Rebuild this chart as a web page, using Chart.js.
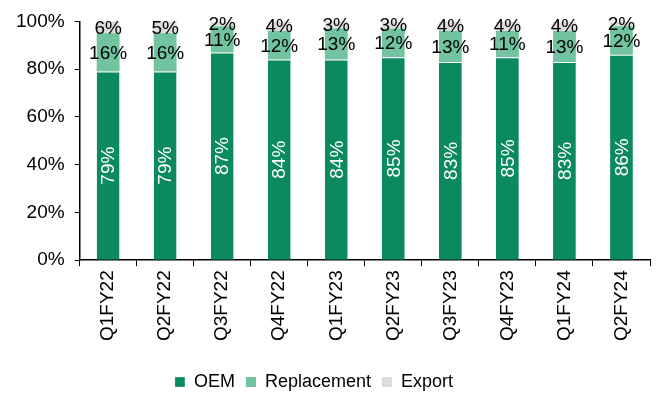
<!DOCTYPE html>
<html>
<head>
<meta charset="utf-8">
<script src="https://cdn.jsdelivr.net/npm/chart.js"></script>
<style>
  html, body { margin: 0; padding: 0; background: #fff; }
  #wrap { width: 657px; height: 396px; }
</style>
</head>
<body>
<div id="wrap"><canvas id="c" width="657" height="396"></canvas></div>
<script>
// dados
const trimestres = ['Q1FY22', 'Q2FY22', 'Q3FY22', 'Q4FY22', 'Q1FY23', 'Q2FY23', 'Q3FY23', 'Q4FY23', 'Q1FY24', 'Q2FY24'];
const oem = [79, 79, 87, 84, 84, 85, 83, 85, 83, 86];
const reposicao = [16, 16, 11, 12, 13, 12, 13, 11, 13, 12];
const exportacao = [6, 5, 2, 4, 3, 3, 4, 4, 4, 2];
const ticksY = [0, 20, 40, 60, 80, 100];

const fonte = '"Liberation Sans", Arial, sans-serif';

// rótulos dentro das barras
const rotulos = {
    id: 'rotulos',
    afterLayout(chart) {
        // legenda um pouco à esquerda, como no original
        chart.legend.left -= 14;
        chart.legend.right -= 14;
    },
    afterDatasetsDraw(chart) {
        const ctx = chart.ctx;
        const topo = chart.chartArea.top;
        ctx.save();
        ctx.font = '19px ' + fonte;
        ctx.textAlign = 'center';
        ctx.textBaseline = 'middle';
        chart.data.datasets.forEach((ds, i) => {
            const meta = chart.getDatasetMeta(i);
            meta.data.forEach((bar, j) => {
                const y1 = Math.max(bar.y, topo);
                const cy = (y1 + bar.base) / 2;
                const txt = ds.data[j] + '%';
                if (i === 0) {
                    ctx.save();
                    ctx.translate(bar.x, cy);
                    ctx.rotate(-Math.PI / 2);
                    ctx.fillStyle = '#ffffff';
                    ctx.fillText(txt, 0, 1);
                    ctx.restore();
                } else {
                    ctx.fillStyle = '#000000';
                    ctx.fillText(txt, bar.x, cy + 1);
                }
            });
        });
        ctx.restore();
    }
};

new Chart(document.getElementById('c'), {
    type: 'bar',
    data: {
        labels: trimestres,
        datasets: [
            { label: 'OEM', data: oem, backgroundColor: '#0b8a5f', borderColor: '#ffffff', borderWidth: { top: 1 }, borderSkipped: false },
            { label: 'Replacement', data: reposicao, backgroundColor: '#72c3a0', borderColor: '#ffffff', borderWidth: 0 },
            { label: 'Export', data: exportacao, backgroundColor: '#dcdcdc', borderWidth: 0 }
        ]
    },
    options: {
        responsive: false,
        animation: false,
        devicePixelRatio: 1,
        layout: { padding: { left: 6, right: 7, top: -5, bottom: -5 } },
        datasets: { bar: { barPercentage: 0.4, categoryPercentage: 1.0 } },
        plugins: {
            legend: {
                position: 'bottom',
                labels: {
                    font: { family: fonte, size: 18 },
                    color: '#000',
                    boxWidth: 10,
                    boxHeight: 10,
                    padding: 11
                }
            },
            tooltip: { enabled: false }
        },
        scales: {
            x: {
                stacked: true,
                afterFit(axis) { axis.height += 17; },
                grid: { offset: true, drawOnChartArea: false, drawTicks: true, tickLength: 6, color: '#000' },
                border: { color: '#000', width: 1.5 },
                ticks: {
                    font: { family: fonte, size: 19 },
                    color: '#000',
                    maxRotation: 90,
                    minRotation: 90,
                    padding: 4
                }
            },
            y: {
                stacked: true,
                min: 0,
                max: 100,
                afterBuildTicks(axis) { axis.ticks = ticksY.map(v => ({ value: v })); },
                grid: { drawOnChartArea: false, drawTicks: true, tickLength: 5, color: '#000' },
                border: { color: '#000', width: 1.5 },
                ticks: {
                    font: { family: fonte, size: 19 },
                    color: '#000',
                    padding: 10,
                    callback: v => v + '%'
                }
            }
        }
    },
    plugins: [rotulos]
});
</script>
</body>
</html>
